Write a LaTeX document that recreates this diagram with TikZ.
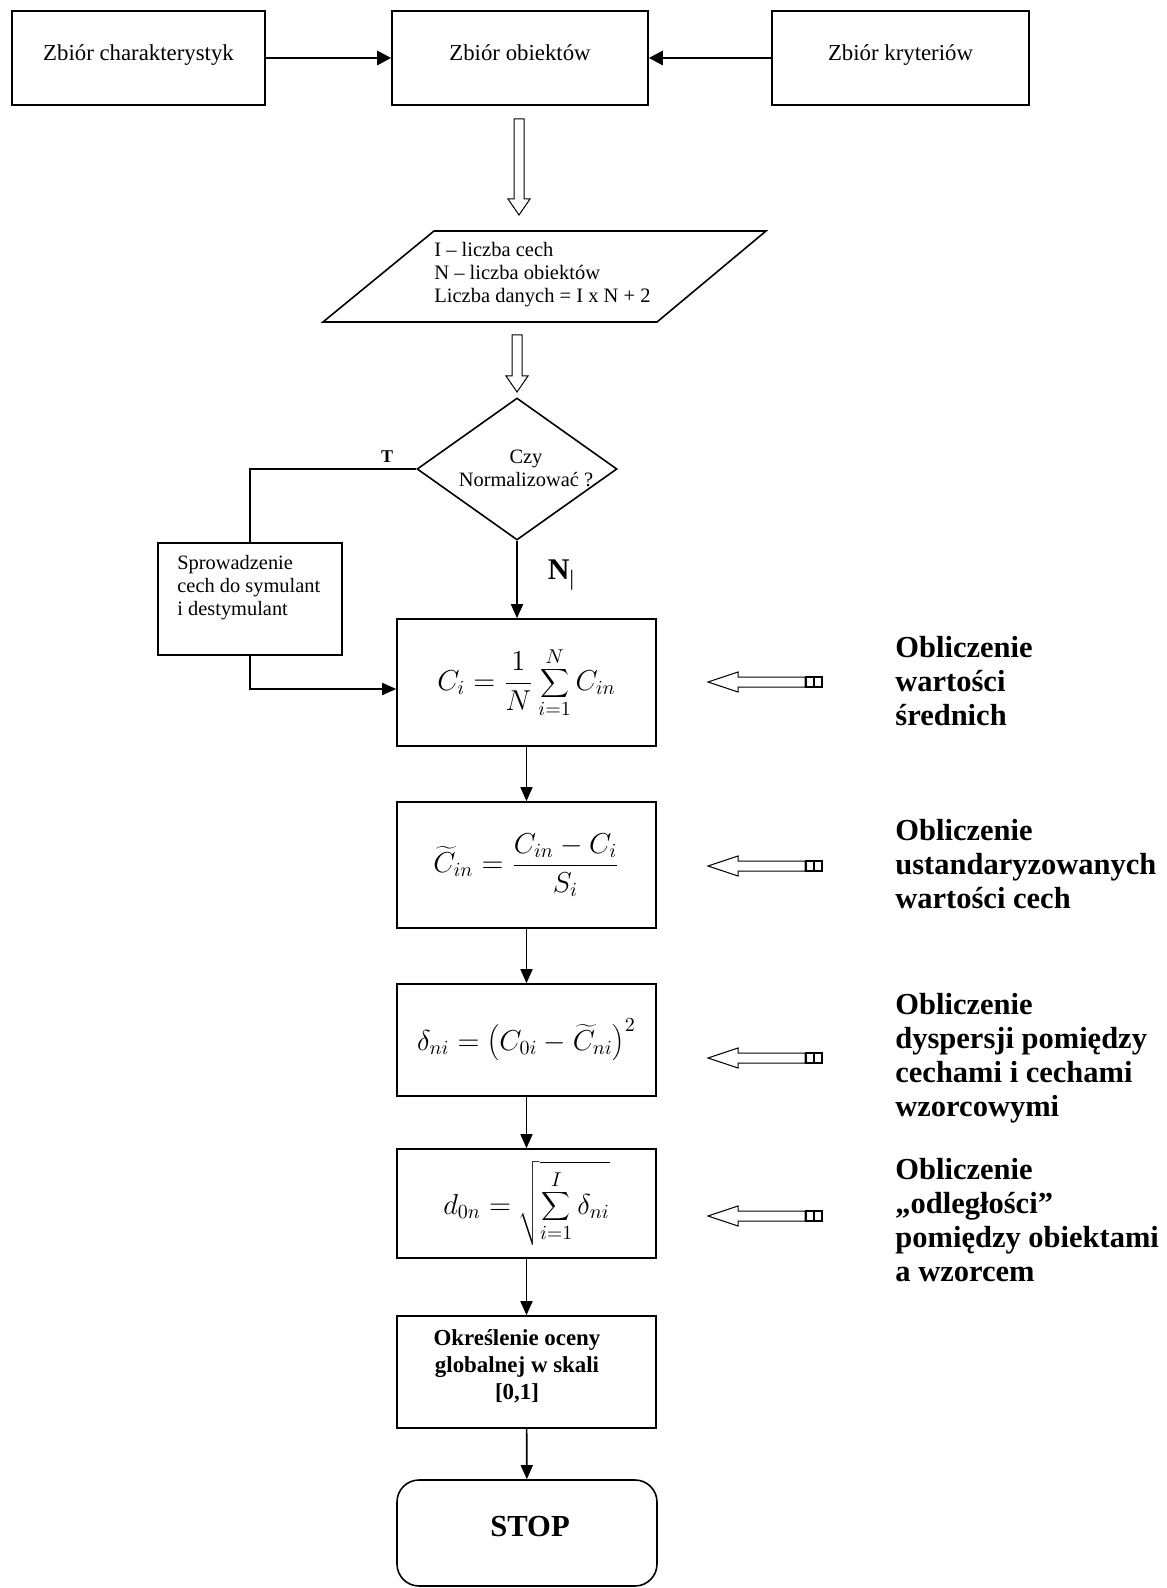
\documentclass[tikz,border=0pt]{standalone}
\usepackage{fontspec}
\setmainfont{Liberation Serif}
\usetikzlibrary{arrows.meta,shapes.geometric,calc}
\newcommand{\fsz}[2]{\fontsize{#1pt}{#2pt}\selectfont}
\newcommand{\hollowdown}[3]{%
  \draw[hollow] (#1-5,#2) -- (#1+5,#2) -- (#1+5,#3-16) -- (#1+11,#3-16) -- (#1,#3) -- (#1-11,#3-16) -- (#1-5,#3-16) -- cycle;}
\newcommand{\sidearrow}[1]{%
  \draw[hollow] (708,#1) -- (738,#1-10) -- (738,#1-5) -- (805,#1-5) -- (805,#1+5) -- (738,#1+5) -- (738,#1+10) -- cycle;
  \draw[line width=0.8pt] (806,#1-5) rectangle (822,#1+5);
  \draw[line width=0.8pt] (814,#1-5) -- (814,#1+5);}
\begin{document}
\begin{tikzpicture}[x=0.5pt,y=-0.5pt,
  box/.style={draw,line width=0.8pt,inner sep=0pt},
  conn/.style={line width=0.8pt,-{Triangle[length=7pt,width=6pt]}},
  thickconn/.style={line width=1.4pt,-{Triangle[length=7pt,width=7pt]}},
  plainline/.style={line width=0.8pt},
  hollow/.style={line width=0.5pt},
  lbl/.style={inner sep=0pt},
  sidetext/.style={inner sep=0pt,anchor=west,align=left,font=\bfseries\fsz{15.25}{17}}]
\useasboundingbox[fill=white] (0,0) rectangle (1166,1588);

% top row
\node[box,minimum width=126.5pt,minimum height=47pt] (b1) at (138.5,58) {\raisebox{5pt}{\fsz{11.4}{13}Zbiór charakterystyk}};
\node[box,minimum width=128pt,minimum height=47pt] (b2) at (520,58) {\raisebox{5pt}{\fsz{11.4}{13}Zbiór obiektów}};
\node[box,minimum width=128.5pt,minimum height=47pt] (b3) at (900.5,58) {\raisebox{5pt}{\fsz{11.4}{13}Zbiór kryteriów}};
\draw[thickconn] (b1.east) -- (b2.west);
\draw[thickconn] (b3.west) -- (b2.east);

\hollowdown{519}{119}{215}

% parallelogram
\draw[plainline] (434,231) -- (766,231) -- (657,322) -- (323,322) -- cycle;
\node[lbl,anchor=west,align=left,font=\fsz{10.25}{11.5}] (para) at (434,275)
  {I – liczba cech\\N – liczba obiektów\\Liczba danych = I x N + 2};

\hollowdown{517}{335}{392}

% decision
\node[diamond,draw,line width=0.8pt,minimum width=100pt,minimum height=71pt,inner sep=0pt] (dia) at (517,469) {};
\node[lbl,align=center,font=\fsz{10.2}{11.5}] (diatext) at (526,468.5) {Czy\\Normalizować ?};
\node[lbl,font=\bfseries\fsz{9}{10}] (tlab) at (387,457) {T};

% left branch
\node[box,minimum width=92pt,minimum height=56pt] (spr) at (250,599) {};
\node[lbl,anchor=west,align=left,font=\fsz{10.2}{11.5}] (sprtext) at (177,588)
  {Sprowadzenie\\cech do symulant\\i destymulant};
\draw[plainline] (dia.west) -- (spr.north |- dia.west) -- (spr.north);

% main column
\node[box,minimum width=129.5pt,minimum height=63.5pt] (bc) at (526.5,682.5)
  {\fsz{14}{16}$\displaystyle C_i=\frac{1}{N}\sum_{i=1}^{N}C_{in}$};
\node[box,minimum width=129.5pt,minimum height=63pt] (bd) at (526.5,865)
  {\fsz{14}{16}$\displaystyle \widetilde{C}_{in}=\frac{C_{in}-C_i}{S_i}$};
\node[box,minimum width=129.5pt,minimum height=56pt] (be) at (526.5,1040)
  {\fsz{14}{16}$\displaystyle \delta_{ni}=\left(C_{0i}-\widetilde{C}_{ni}\right)^{2}$};
\node[box,minimum width=129.5pt,minimum height=54.5pt] (bf) at (526.5,1203.5)
  {\fsz{14}{16}$\displaystyle d_{0n}=\sqrt{\sum_{i=1}^{I}\delta_{ni}}$};
\node[box,minimum width=129.5pt,minimum height=56pt] (bg) at (526.5,1372) {};
\node[lbl,align=center,font=\bfseries\fsz{11.45}{13.5}] (bgtext) at (517,1366)
  {Określenie oceny\\globalnej w skali\\{[0,1]}};
\node[draw,line width=0.8pt,rounded corners=11pt,minimum width=130pt,minimum height=53pt,inner sep=0pt] (stop) at (527,1533) {};
\node[lbl,font=\bfseries\fsz{15.3}{17}] (stoptext) at (530,1527) {STOP};

\draw[conn] (dia.south) -- (dia.south |- bc.north);
\node[lbl,font=\fsz{15}{17}] (nlab) at (561,575) {\textbf{N}\raisebox{-3pt}{\fsz{11}{11}|}};
\draw[conn] (spr.south) |- ($(bc.west)+(0,6.5)$);
\draw[conn] (bc) -- (bd);
\draw[conn] (bd) -- (be);
\draw[conn] (be) -- (bf);
\draw[conn] (bf) -- (bg);
\draw[conn] (bg) -- (stop);

% right side
\sidearrow{682}
\sidearrow{866}
\sidearrow{1058}
\sidearrow{1216}
\node[sidetext] (r1) at (895,681) {Obliczenie\\wartości\\średnich};
\node[sidetext] (r2) at (895,864) {Obliczenie\\ustandaryzowanych\\wartości cech};
\node[sidetext] (r3) at (895,1058) {Obliczenie\\dyspersji pomiędzy\\cechami i cechami\\wzorcowymi};
\node[sidetext] (r4) at (895,1220) {Obliczenie\\„odległości”\\pomiędzy obiektami\\a wzorcem};
\end{tikzpicture}
\end{document}
